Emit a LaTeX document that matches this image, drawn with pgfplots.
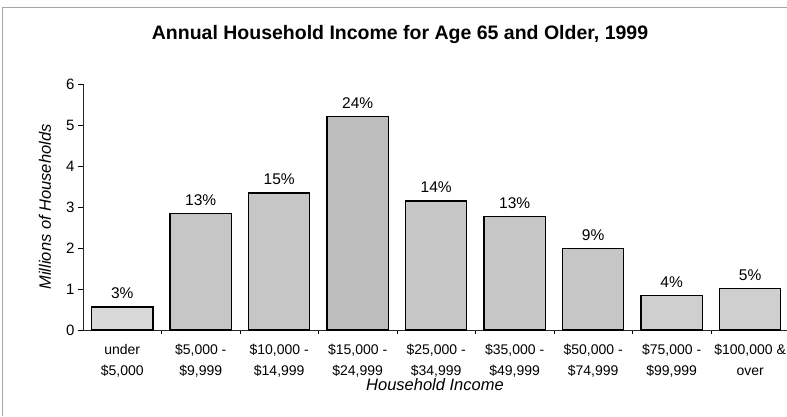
\documentclass[border=0pt]{standalone}
\usepackage{fontspec}
\setmainfont{Liberation Sans}
\usepackage{pgfplots}
\pgfplotsset{compat=1.18}
\begin{document}
\begin{tikzpicture}
\useasboundingbox (0,0) rectangle (787pt,416pt);
\draw[gray!70, line width=0.6pt] (2pt,0) -- (2pt,409pt) -- (787pt,409pt);
\node[font=\fontsize{19.5}{22}\selectfont\bfseries] at (400pt,381pt) {Annual Household Income for Age 65 and Older, 1999};
\begin{axis}[
  at={(83pt,86pt)}, anchor=south west,
  scale only axis, width=704pt, height=246pt,
  xmin=-0.5, xmax=8.47, ymin=0, ymax=6,
  axis x line*=bottom, axis y line*=left,
  axis line style={line width=0.8pt, black!85, -},
  ytick={0,1,2,3,4,5,6},
  xtick={0,...,8},
  xticklabels={{under\\\$5,000},{\$5,000 -\\\$9,999},{\$10,000 -\\\$14,999},{\$15,000 -\\\$24,999},{\$25,000 -\\\$34,999},{\$35,000 -\\\$49,999},{\$50,000 -\\\$74,999},{\$75,000 -\\\$99,999},{\$100,000 \&\\over}},
  xticklabel style={align=center, font=\fontsize{14}{21}\selectfont, yshift=-6pt},
  yticklabel style={font=\fontsize{15}{17}\selectfont},
  /pgf/number format/assume math mode=true,
  tick align=outside,
  major tick length=5pt,
  major x tick style={draw=none},
  minor xtick={0.5,1.5,...,7.5},
  minor x tick style={black, line width=0.6pt},
  minor tick length=4pt,
  ytick style={black, line width=0.6pt},
  xlabel={Household Income},
  ylabel={Millions of Households},
  xlabel style={font=\fontsize{16.5}{18}\selectfont\itshape, at={(axis description cs:0.5,0)}, anchor=center, yshift=-55pt},
  ylabel style={font=\fontsize{16.5}{18}\selectfont\itshape, at={(axis description cs:-0.054,0.5)}, anchor=center},
  ybar, bar width=0.78, bar shift=0pt,
  nodes near coords, point meta=explicit symbolic,
  every node near coord/.append style={font=\fontsize{15.5}{17}\selectfont, yshift=4pt, black},
  clip=false,
]
\addplot[fill=gray!30, draw=black, line width=1.3pt] coordinates {
(0,0.56) [3\%]
};
\addplot[fill=gray!45, draw=black, line width=1.3pt] coordinates {
(1,2.85) [13\%]
(2,3.34) [15\%]
(4,3.15) [14\%]
(5,2.76) [13\%]
(6,1.98) [9\%]
};
\addplot[fill=gray!52, draw=black, line width=1.3pt] coordinates {
(3,5.20) [24\%]
};
\addplot[fill=gray!38, draw=black, line width=1.3pt] coordinates {
(7,0.85) [4\%]
(8,1.02) [5\%]
};
\end{axis}
\end{tikzpicture}
\end{document}
